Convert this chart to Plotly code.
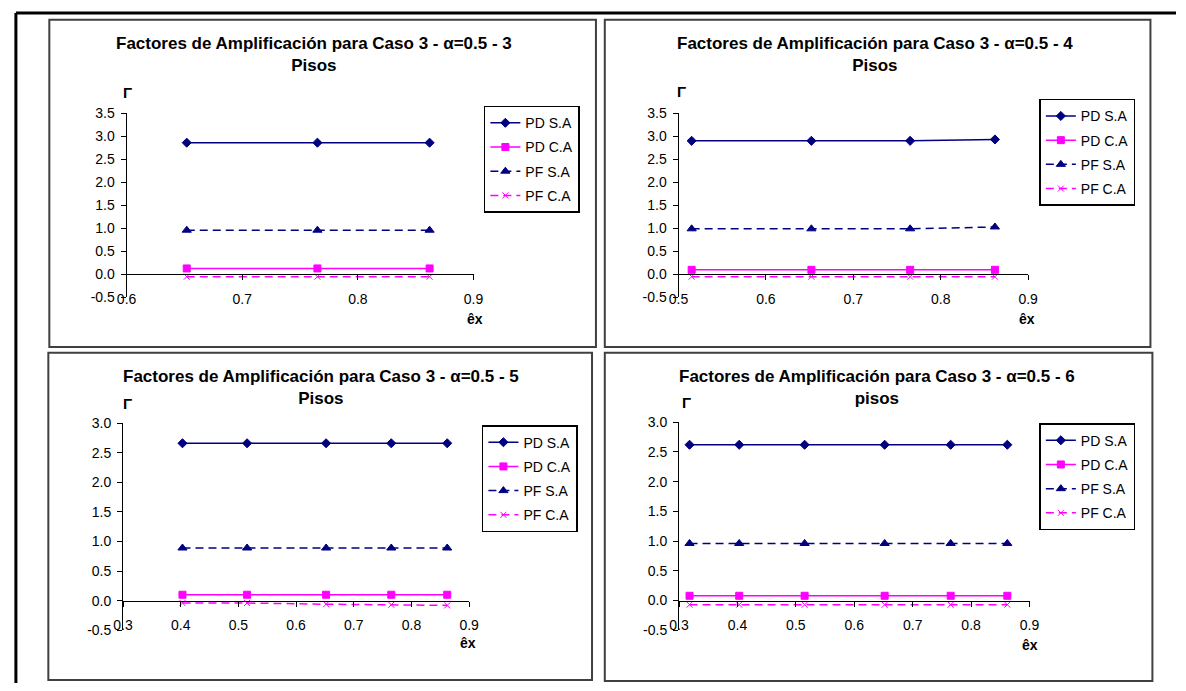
import plotly.graph_objects as go

# ---------------- data ----------------
series_names = ["PD S.A", "PD C.A", "PF S.A", "PF C.A"]

x_3 = [0.652, 0.765, 0.862]
pd_sa_3 = [2.86, 2.86, 2.86]
pd_ca_3 = [0.13, 0.13, 0.13]
pf_sa_3 = [0.96, 0.96, 0.96]
pf_ca_3 = [-0.05, -0.05, -0.05]

x_4 = [0.515, 0.652, 0.765, 0.862]
pd_sa_4 = [2.90, 2.90, 2.90, 2.93]
pd_ca_4 = [0.10, 0.10, 0.10, 0.10]
pf_sa_4 = [0.99, 0.99, 0.99, 1.03]
pf_ca_4 = [-0.05, -0.05, -0.05, -0.05]

x_5 = [0.403, 0.515, 0.652, 0.765, 0.862]
pd_sa_5 = [2.66, 2.66, 2.66, 2.66, 2.66]
pd_ca_5 = [0.10, 0.10, 0.10, 0.10, 0.10]
pf_sa_5 = [0.89, 0.89, 0.89, 0.89, 0.89]
pf_ca_5 = [-0.04, -0.04, -0.06, -0.07, -0.08]

x_6 = [0.318, 0.403, 0.515, 0.652, 0.765, 0.862]
pd_sa_6 = [2.62, 2.62, 2.62, 2.62, 2.62, 2.62]
pd_ca_6 = [0.08, 0.08, 0.08, 0.08, 0.08, 0.08]
pf_sa_6 = [0.96, 0.96, 0.96, 0.96, 0.96, 0.96]
pf_ca_6 = [-0.07, -0.07, -0.07, -0.07, -0.07, -0.07]

titles = [
    "Factores de Amplificación para Caso 3 - α=0.5 - 3<br>Pisos",
    "Factores de Amplificación para Caso 3 - α=0.5 - 4<br>Pisos",
    "Factores de Amplificación para Caso 3 - α=0.5 - 5<br>Pisos",
    "Factores de Amplificación para Caso 3 - α=0.5 - 6<br>pisos",
]
x_ticks = [
    [0.6, 0.7, 0.8, 0.9],
    [0.5, 0.6, 0.7, 0.8, 0.9],
    [0.3, 0.4, 0.5, 0.6, 0.7, 0.8, 0.9],
    [0.3, 0.4, 0.5, 0.6, 0.7, 0.8, 0.9],
]
y_ticks = [
    [-0.5, 0.0, 0.5, 1.0, 1.5, 2.0, 2.5, 3.0, 3.5],
    [-0.5, 0.0, 0.5, 1.0, 1.5, 2.0, 2.5, 3.0, 3.5],
    [-0.5, 0.0, 0.5, 1.0, 1.5, 2.0, 2.5, 3.0],
    [-0.5, 0.0, 0.5, 1.0, 1.5, 2.0, 2.5, 3.0],
]
y_axis_title = "Γ"
x_axis_title = "êx"

panels = [
    (x_3, [pd_sa_3, pd_ca_3, pf_sa_3, pf_ca_3]),
    (x_4, [pd_sa_4, pd_ca_4, pf_sa_4, pf_ca_4]),
    (x_5, [pd_sa_5, pd_ca_5, pf_sa_5, pf_ca_5]),
    (x_6, [pd_sa_6, pd_ca_6, pf_sa_6, pf_ca_6]),
]

# ---------------- layout geometry (pixels) ----------------
W, H = 1186, 691
FONT = "Liberation Sans, Arial, sans-serif"

def px(v):
    return v / W

def py(v):
    return 1 - v / H

# plot areas: (left, right, top, bottom) in pixels
plot_boxes = [
    (118.6, 471.5, 107.7, 296.3),
    (680.0, 1035.6, 107.7, 296.3),
    (115.0, 467.0, 425.0, 637.0),
    (680.5, 1037.0, 424.0, 637.0),
]
frame_boxes = [
    (40, 596, 12, 347),
    (605, 1160, 12, 347),
    (39, 592, 353, 688),
    (605, 1162, 353, 689),
]
title_pos = [(309, 48), (880, 48), (316, 389), (882, 389)]
gamma_pos = [(120, 87), (683, 85), (120, 405), (688, 404)]
ex_pos = [(473, 318), (1034, 318), (466, 650), (1037, 652)]
legend_pos = [(482, 100), (1047, 93), (480, 427), (1047, 425)]

styles = [
    dict(color="#000080", dash="solid", symbol="diamond", size=7),
    dict(color="#FF00FF", dash="solid", symbol="square", size=7),
    dict(color="#000080", dash="8px,5px", symbol="triangle-up", size=8),
    dict(color="#FF00FF", dash="8px,5px", symbol="x-thin-open", size=6),
]

fig = go.Figure()

for i, (xs, ys_list) in enumerate(panels):
    n = "" if i == 0 else str(i + 1)
    leg = "legend" if i == 0 else "legend" + str(i + 1)
    for j, ys in enumerate(ys_list):
        st = styles[j]
        fig.add_trace(go.Scatter(
            x=xs, y=ys, mode="lines+markers", name=series_names[j],
            xaxis="x" + n, yaxis="y" + n, legend=leg,
            legendgroup=f"p{i}s{j}",
            line=dict(color=st["color"], width=1.5, dash=st["dash"]),
            marker=dict(symbol=st["symbol"], size=st["size"], color=st["color"],
                        line=dict(color=st["color"], width=1)),
        ))

    l, r, t, b = plot_boxes[i]
    ydom = [py(b), py(t)]
    xdom = [px(l), px(r)]
    y0, y1 = y_ranges = (y_ticks[i][0], y_ticks[i][-1])
    frac = (0 - y0) / (y1 - y0)
    xpos = ydom[0] + frac * (ydom[1] - ydom[0])
    fig.layout["xaxis" + n] = dict(
        domain=xdom, range=[x_ticks[i][0], x_ticks[i][-1]],
        anchor="free", position=xpos,
        showline=True, linecolor="black", linewidth=1,
        ticks="outside", ticklen=5, tickcolor="black",
        tickvals=x_ticks[i], ticktext=[f"{v:.1f}" for v in x_ticks[i]],
        showgrid=False, zeroline=False, ticklabelstandoff=7,
        tickfont=dict(family=FONT, size=14, color="black"),
    )
    fig.layout["yaxis" + n] = dict(
        domain=ydom, range=[y0, y1], anchor="x" + n,
        showline=True, linecolor="black", linewidth=1,
        ticks="outside", ticklen=5, tickcolor="black",
        tickvals=y_ticks[i], ticktext=[f"{v:.1f}" for v in y_ticks[i]],
        showgrid=False, zeroline=False, ticklabelstandoff=3,
        tickfont=dict(family=FONT, size=14, color="black"),
    )
    lx, ly = legend_pos[i]
    fig.layout[leg] = dict(
        x=px(lx), y=py(ly), xanchor="left", yanchor="top",
        bgcolor="white", bordercolor="black", borderwidth=1.5,
        font=dict(family=FONT, size=14, color="black"),
        tracegroupgap=3, itemwidth=30,
    )

    # panel frame
    fl, fr, ft, fb = frame_boxes[i]
    fig.add_shape(type="rect", xref="paper", yref="paper",
                  x0=px(fl), x1=px(fr), y0=py(fb), y1=py(ft),
                  line=dict(color="#404040", width=2))
    # titles
    tx, ty = title_pos[i]
    fig.add_annotation(xref="paper", yref="paper", x=px(tx), y=py(ty),
                       text="<b>" + titles[i] + "</b>", showarrow=False,
                       xanchor="center", yanchor="middle",
                       font=dict(family=FONT, size=17, color="black"))
    gx, gy = gamma_pos[i]
    fig.add_annotation(xref="paper", yref="paper", x=px(gx), y=py(gy),
                       text="<b>" + y_axis_title + "</b>", showarrow=False,
                       xanchor="center", yanchor="middle",
                       font=dict(family=FONT, size=15, color="black"))
    ex, ey = ex_pos[i]
    fig.add_annotation(xref="paper", yref="paper", x=px(ex), y=py(ey),
                       text="<b>" + x_axis_title + "</b>", showarrow=False,
                       xanchor="center", yanchor="middle",
                       font=dict(family=FONT, size=14, color="black"))

# outer frame lines
fig.add_shape(type="line", xref="paper", yref="paper",
              x0=px(6), x1=1, y0=py(5), y1=py(5),
              line=dict(color="black", width=3))
fig.add_shape(type="line", xref="paper", yref="paper",
              x0=px(6), x1=px(6), y0=py(5), y1=0,
              line=dict(color="black", width=3))

fig.update_layout(
    width=W, height=H, margin=dict(l=0, r=0, t=0, b=0),
    paper_bgcolor="white", plot_bgcolor="white",
    font=dict(family=FONT, color="black"),
    showlegend=True,
)

fig.write_html("out.html")
